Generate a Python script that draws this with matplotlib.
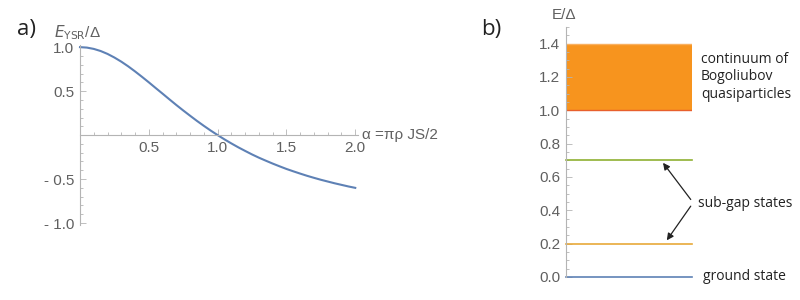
import numpy as np
import matplotlib
matplotlib.use("Agg")
import matplotlib.pyplot as plt
from matplotlib.ticker import MultipleLocator, FixedLocator

# panel a) values
alpha = [0.00, 0.05, 0.10, 0.15, 0.20, 0.25, 0.30, 0.35, 0.40, 0.45,
         0.50, 0.55, 0.60, 0.65, 0.70, 0.75, 0.80, 0.85, 0.90, 0.95,
         1.00, 1.05, 1.10, 1.15, 1.20, 1.25, 1.30, 1.35, 1.40, 1.45,
         1.50, 1.55, 1.60, 1.65, 1.70, 1.75, 1.80, 1.85, 1.90, 1.95, 2.00]
e_ysr = [1.000, 0.995, 0.980, 0.956, 0.923, 0.882, 0.835, 0.782, 0.724, 0.663,
         0.600, 0.535, 0.471, 0.406, 0.342, 0.280, 0.220, 0.161, 0.105, 0.051,
         0.000, -0.049, -0.095, -0.139, -0.180, -0.220, -0.257, -0.291, -0.324, -0.355,
         -0.385, -0.412, -0.438, -0.463, -0.486, -0.508, -0.528, -0.548, -0.566, -0.584,
         -0.600]

# panel b) energy levels
band_low, band_high = 1.0, 1.4
level_names = ["ground state", "sub-gap low", "sub-gap high"]
level_values = [0.0, 0.2, 0.7]
level_colors = ["#5E81B5", "#E8A93A", "#8FB032"]

AX_GRAY = "#b4b4b4"
TXT_GRAY = "#606060"
TICK_FONT = "Liberation Sans"
TEXT_FONT = "Open Sans"
FS = 11

fig = plt.figure(figsize=(8, 3), dpi=100)

# ---------- panel a ----------
ax = fig.add_axes([0.10, 0.2507, 0.3475, 0.598])
ax.plot(alpha, e_ysr, color="#5E81B5", lw=1.5, clip_on=False)
ax.set_xlim(0, 2.02)
ax.set_ylim(-1.02, 1.02)
for s in ["top", "right"]:
    ax.spines[s].set_visible(False)
ax.spines["left"].set_position(("data", 0))
ax.spines["bottom"].set_position(("data", 0))
for s in ["left", "bottom"]:
    ax.spines[s].set_color(AX_GRAY)
    ax.spines[s].set_linewidth(0.8)
ax.xaxis.set_major_locator(FixedLocator([0.5, 1.0, 1.5, 2.0]))
ax.xaxis.set_minor_locator(MultipleLocator(0.1))
ax.yaxis.set_major_locator(FixedLocator([-1.0, -0.5, 0.5, 1.0]))
ax.yaxis.set_minor_locator(MultipleLocator(0.1))
ax.set_xticklabels(["0.5", "1.0", "1.5", "2.0"])
ax.set_yticklabels(["- 1.0", "- 0.5", "0.5", "1.0"])
ax.tick_params(which="both", direction="in", color=AX_GRAY, width=0.6,
               labelcolor=TXT_GRAY, labelsize=FS)
ax.tick_params(which="major", length=4, pad=4)
ax.tick_params(which="minor", length=2.5)
for lab in ax.get_xticklabels() + ax.get_yticklabels():
    lab.set_fontfamily(TICK_FONT)
ax.text(-0.19, 1.17, r"$\mathit{E}_{\mathrm{YSR}}$/Δ", color=TXT_GRAY,
        fontsize=FS, family=TICK_FONT, ha="left", va="center")
ax.text(2.05, 0.0, "α =πρ JS/2", color=TXT_GRAY, fontsize=FS,
        family=TICK_FONT, ha="left", va="center")
fig.text(0.021, 0.90, "a)", fontsize=16, family=TEXT_FONT, color="#222222",
         va="center")

# ---------- panel b ----------
bx = fig.add_axes([0.7075, 0.0767, 0.1575, 0.8333])
bx.set_xlim(0, 1)
bx.set_ylim(0, 1.5)
bx.axhspan(band_low, band_high, color="#F7941E", lw=0)
bx.axhline(band_low, color="#E8602C", lw=1.0)
bx.axhline(band_high, color="#F9B060", lw=1.0)
for v, c in zip(level_values, level_colors):
    bx.axhline(v, color=c, lw=1.2, clip_on=False)
for s in ["top", "right", "bottom"]:
    bx.spines[s].set_visible(False)
bx.spines["left"].set_color(AX_GRAY)
bx.spines["left"].set_linewidth(0.8)
bx.set_xticks([])
bx.yaxis.set_minor_locator(MultipleLocator(0.05))
bx.tick_params(which="both", direction="in", color=AX_GRAY, width=0.6,
               labelcolor=TXT_GRAY, labelsize=FS)
bx.tick_params(which="major", length=4, pad=4)
bx.tick_params(which="minor", length=2.5)
bx.set_yticks([0.0, 0.2, 0.4, 0.6, 0.8, 1.0, 1.2, 1.4])
bx.set_yticklabels(["0.0", "0.2", "0.4", "0.6", "0.8", "1.0", "1.2", "1.4"])
for lab in bx.get_yticklabels():
    lab.set_fontfamily(TICK_FONT)
bx.text(-0.11, 1.57, "E/Δ", color=TXT_GRAY, fontsize=FS, family=TICK_FONT,
        ha="left", va="center", clip_on=False)
fig.text(0.601, 0.90, "b)", fontsize=16, family=TEXT_FONT, color="#222222",
         va="center")

bx.text(1.07, 1.2, "continuum of\nBogoliubov\nquasiparticles", fontsize=10,
        family=TEXT_FONT, color="#222222", ha="left", va="center",
        linespacing=1.25, clip_on=False)
bx.text(1.05, 0.44, "sub-gap states", fontsize=10, family=TEXT_FONT,
        color="#222222", ha="left", va="center", clip_on=False)
bx.text(1.09, 0.0, "ground state", fontsize=10, family=TEXT_FONT,
        color="#222222", ha="left", va="center", clip_on=False)
arrow = dict(arrowstyle="-|>", color="#222222", lw=0.9, mutation_scale=10,
             shrinkA=0, shrinkB=0)
bx.annotate("", xy=(0.77, 0.685), xytext=(0.99, 0.465), arrowprops=arrow,
            annotation_clip=False)
bx.annotate("", xy=(0.80, 0.22), xytext=(0.99, 0.425), arrowprops=arrow,
            annotation_clip=False)

fig.savefig("out.png", dpi=100)
